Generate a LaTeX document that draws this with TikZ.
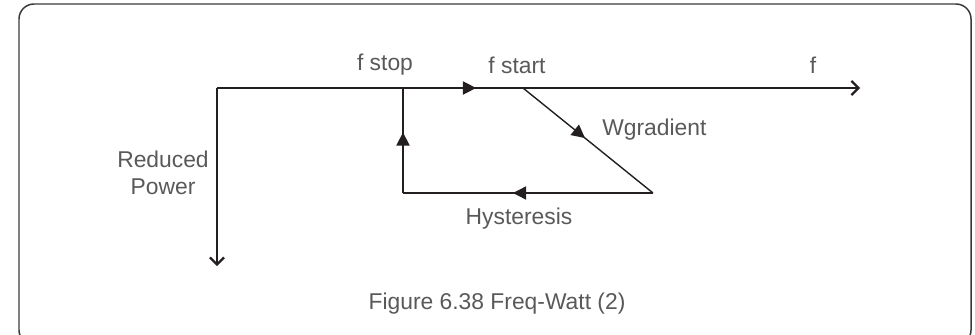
\documentclass[tikz,border=0pt]{standalone}
\usepackage{fontspec}
\setmainfont{Liberation Sans}
\usetikzlibrary{arrows.meta,decorations.markings}
\definecolor{txt}{HTML}{595959}
\definecolor{ink}{HTML}{231F20}
\definecolor{frm}{HTML}{3A3A3A}

\begin{document}
\begin{tikzpicture}[x=0.02cm,y=-0.02cm,>={Straight Barb[length=4pt,width=8pt,line width=1.3pt]},font=\fontsize{13}{15.3}\selectfont,
  mid/.style={postaction={decorate},decoration={markings,mark=at position #1 with {\arrow{Triangle[length=7.5pt,width=7.5pt]}}}}]
\tikzstyle{lbl}=[text=txt,inner sep=0pt]
\tikzstyle{ln}=[draw=ink,line width=0.8pt]
\useasboundingbox (0,0) rectangle (975,335);
\clip (0,0) rectangle (975,335);
\draw[frm,line width=0.85pt,rounded corners=0.3cm] (19,4) rectangle (971,345);
\coordinate (o) at (217,88);
\coordinate (fend) at (860,88);
\coordinate (pend) at (217,266);
\coordinate (stop) at (403,88);
\coordinate (start) at (523,88);
\coordinate (low) at (653,193);
\coordinate (hys) at (403,193);
\draw[ln,->,mid=0.403] (o) -- (fend);
\draw[ln,->] (o) -- (pend);
\draw[ln,mid=0.477] (start) -- (low);
\draw[ln,mid=0.56] (low) -- (hys);
\draw[ln,mid=0.577] (hys) -- (stop);
\node[lbl] (fstop) at (385,65) {f stop};
\node[lbl] (fstart) at (517,65) {f start};
\node[lbl] (f) at (813,65) {f};
\node[lbl,anchor=west] (wg) at (602,130) {Wgradient};
\node[lbl,align=center] (rp) at (163,173) {Reduced\\Power};
\node[lbl] (hy) at (519,219) {Hysteresis};
\node[lbl] (cap) at (497,304) {Figure 6.38 Freq-Watt (2)};
\end{tikzpicture}
\end{document}
